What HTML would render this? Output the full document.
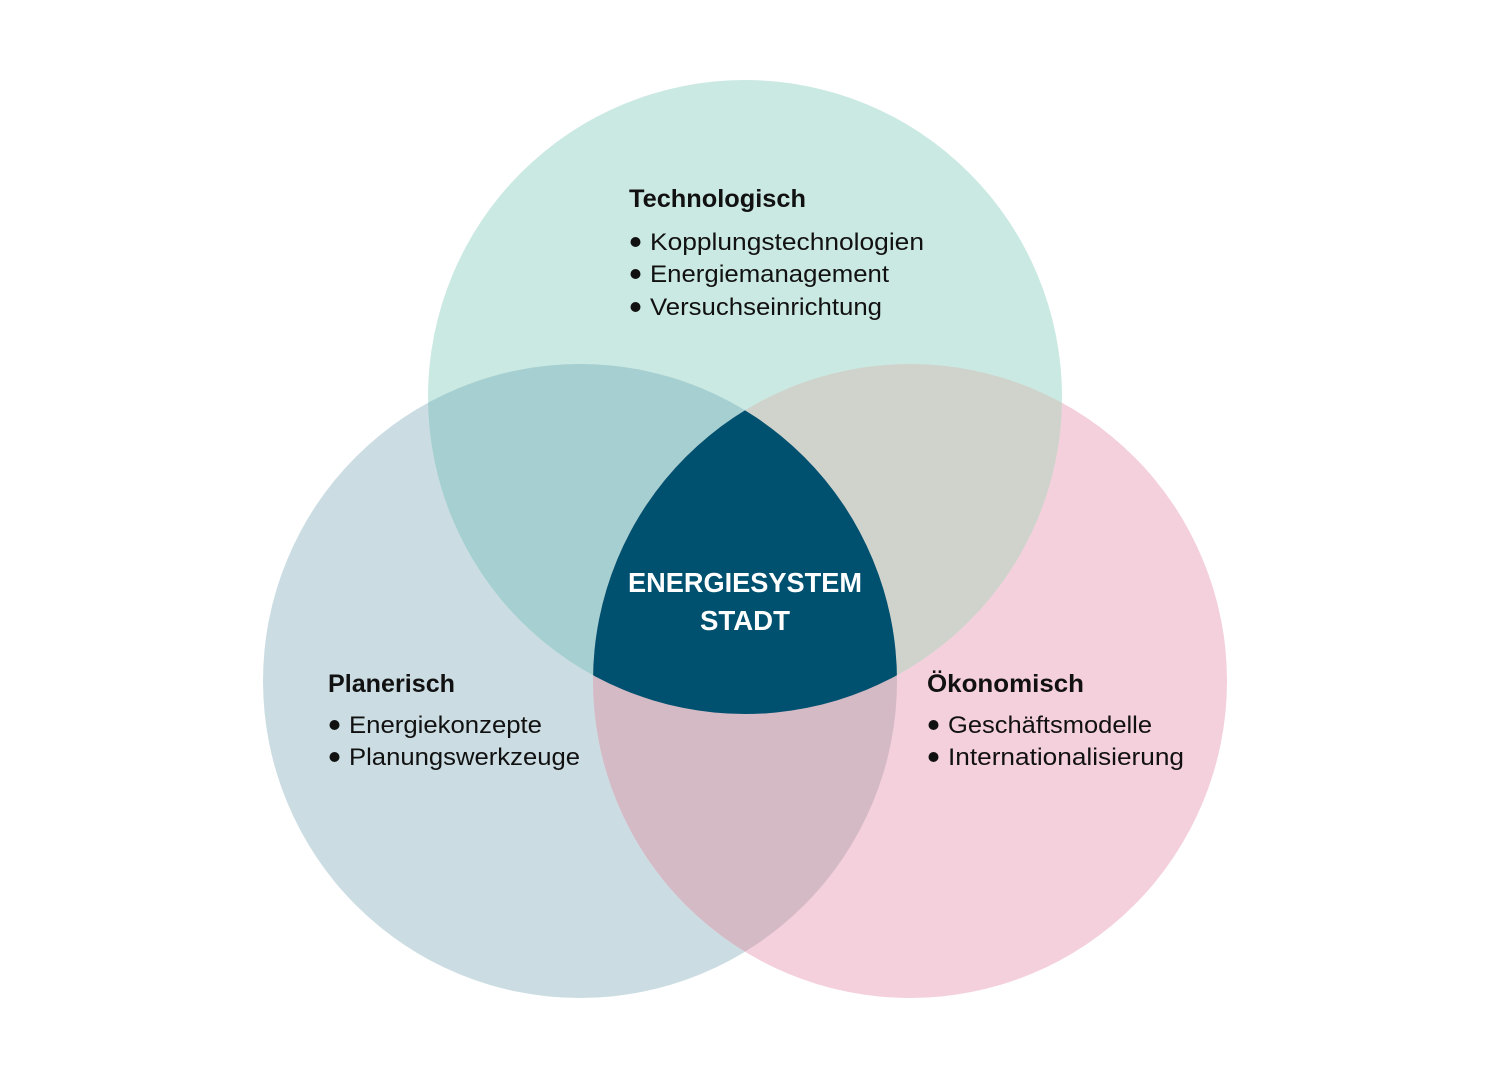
<!DOCTYPE html>
<html>
<head>
<meta charset="utf-8">
<style>
html,body{margin:0;padding:0;background:#fff;}
svg{display:block;}
text{font-family:"Liberation Sans",sans-serif;}
</style>
</head>
<body>
<svg width="1491" height="1079" viewBox="0 0 1491 1079" xmlns="http://www.w3.org/2000/svg">
<defs>
<clipPath id="cT"><circle cx="745" cy="397" r="317"/></clipPath>
<clipPath id="cL"><circle cx="580" cy="681" r="317"/></clipPath>
<clipPath id="cR"><circle cx="910" cy="681" r="317"/></clipPath>
</defs>
<rect width="1491" height="1079" fill="#fff"/>
<circle cx="580" cy="681" r="317" fill="#cbdde3"/>
<circle cx="910" cy="681" r="317" fill="#f4cfdc"/>
<circle cx="745" cy="397" r="317" fill="#cbe9e3"/>
<g clip-path="url(#cL)"><circle cx="745" cy="397" r="317" fill="#a5cfd1"/></g>
<g clip-path="url(#cR)"><circle cx="745" cy="397" r="317" fill="#cfd3cb"/></g>
<g clip-path="url(#cL)"><circle cx="910" cy="681" r="317" fill="#d4bac5"/></g>
<g clip-path="url(#cL)"><g clip-path="url(#cR)"><circle cx="745" cy="397" r="317" fill="#00506f"/></g></g>

<!-- Top -->
<g fill="#111">
<text x="629" y="207" font-size="25" font-weight="bold" textLength="177" lengthAdjust="spacingAndGlyphs">Technologisch</text>
<circle cx="635.5" cy="242" r="5"/>
<text x="650" y="250" font-size="24" textLength="274" lengthAdjust="spacingAndGlyphs">Kopplungstechnologien</text>
<circle cx="635.5" cy="274" r="5"/>
<text x="650" y="282" font-size="24" textLength="239" lengthAdjust="spacingAndGlyphs">Energiemanagement</text>
<circle cx="635.5" cy="307" r="5"/>
<text x="650" y="315" font-size="24" textLength="232" lengthAdjust="spacingAndGlyphs">Versuchseinrichtung</text>
</g>

<!-- Left -->
<g fill="#111">
<text x="328" y="692" font-size="25" font-weight="bold" textLength="127" lengthAdjust="spacingAndGlyphs">Planerisch</text>
<circle cx="334.5" cy="725" r="5"/>
<text x="349" y="733" font-size="24" textLength="193" lengthAdjust="spacingAndGlyphs">Energiekonzepte</text>
<circle cx="334.5" cy="757" r="5"/>
<text x="349" y="765" font-size="24" textLength="231" lengthAdjust="spacingAndGlyphs">Planungswerkzeuge</text>
</g>

<!-- Right -->
<g fill="#111">
<text x="927" y="692" font-size="25" font-weight="bold" textLength="157" lengthAdjust="spacingAndGlyphs">Ökonomisch</text>
<circle cx="933.5" cy="725" r="5"/>
<text x="948" y="733" font-size="24" textLength="204" lengthAdjust="spacingAndGlyphs">Geschäftsmodelle</text>
<circle cx="933.5" cy="757" r="5"/>
<text x="948" y="765" font-size="24" textLength="236" lengthAdjust="spacingAndGlyphs">Internationalisierung</text>
</g>

<!-- Center -->
<g fill="#fff" font-weight="bold">
<text x="628" y="592" font-size="28" textLength="234" lengthAdjust="spacingAndGlyphs">ENERGIESYSTEM</text>
<text x="700" y="630" font-size="28" textLength="90" lengthAdjust="spacingAndGlyphs">STADT</text>
</g>
</svg>
</body>
</html>
